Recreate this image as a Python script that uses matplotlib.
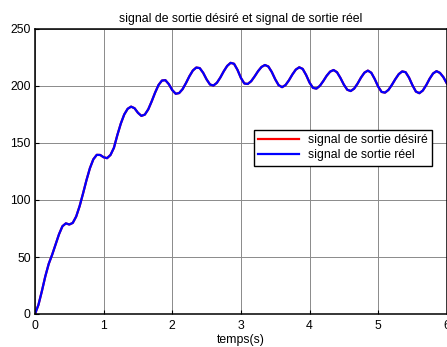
import numpy as np
import matplotlib
matplotlib.use("Agg")
import matplotlib.pyplot as plt

plt.rcParams['font.family'] = ['Liberation Sans', 'DejaVu Sans']

# temps d'échantillonnage (s)
temps = np.round(np.arange(121) * 0.05, 2)

# signal de sortie désiré
sortie_desiree = [
    0.0, 8.0, 20.0, 33.0, 44.0, 52.0, 61.0, 70.0, 77.0, 79.5,
    78.5, 79.9, 85.5, 94.6, 105.7, 117.4, 127.9, 135.7, 139.6, 139.5,
    137.5, 136.7, 139.5, 145.8, 157.0, 167.0, 175.0, 180.0, 181.9, 180.5,
    176.5, 173.8, 174.9, 179.5, 186.5, 194.2, 200.9, 204.8, 205.1, 201.6,
    196.4, 193.2, 193.8, 197.2, 202.6, 208.6, 213.6, 216.2, 215.7, 211.6,
    205.8, 201.3, 200.4, 202.8, 207.4, 212.9, 217.6, 220.3, 219.5, 214.2,
    207.1, 202.2, 201.8, 204.2, 208.4, 213.0, 216.7, 218.4, 217.1, 212.3,
    205.9, 200.7, 199.0, 200.8, 205.0, 210.1, 214.4, 216.4, 215.0, 209.7,
    203.0, 198.4, 197.7, 200.1, 204.3, 209.0, 212.6, 214.0, 212.1, 207.1,
    201.2, 196.7, 195.6, 197.7, 202.1, 207.4, 211.7, 213.5, 211.6, 206.1,
    199.5, 194.8, 194.2, 196.6, 201.0, 206.0, 210.4, 212.8, 212.1, 207.3,
    200.6, 195.1, 193.7, 196.0, 200.7, 206.4, 211.0, 213.0, 211.5, 207.8,
    202.3,
]

# signal de sortie réel (suit la consigne)
sortie_reelle = list(sortie_desiree)

x_ticks = [0, 1, 2, 3, 4, 5, 6]
y_ticks = [0, 50, 100, 150, 200, 250]

W, H = 447, 347
fig = plt.figure(figsize=(W / 100, H / 100), dpi=100)
left, right, top, bottom = 35, 446.8, 29, 314
ax = fig.add_axes([left / W, 1 - bottom / H, (right - left) / W, (bottom - top) / H])

ax.plot(temps, sortie_desiree, color='#ff0000', lw=1.6, label='signal de sortie désiré')
ax.plot(temps, sortie_reelle, color='#0000ff', lw=1.6, label='signal de sortie réel')

ax.set_xlim(0, 6)
ax.set_ylim(0, 250)
ax.set_xticks(x_ticks)
ax.set_yticks(y_ticks)
ax.grid(True, color='#8a8a8a', lw=0.7, ls='-')
ax.tick_params(direction='in', length=3, width=0.8, labelsize=8.8, colors='black')
ax.tick_params(axis='x', pad=4)
ax.tick_params(axis='y', pad=3)
for s in ax.spines.values():
    s.set_linewidth(1.1)
    s.set_color('black')

ax.set_title('signal de sortie désiré et signal de sortie réel', fontsize=8.8, pad=5)
ax.set_xlabel('temps(s)', fontsize=8.8, labelpad=2)

leg = ax.legend(loc='upper left', bbox_to_anchor=(254 / W, 1 - 130 / H),
                bbox_transform=fig.transFigure, fontsize=8.8, frameon=True,
                fancybox=False, framealpha=1, edgecolor='black',
                handlelength=3.3, handletextpad=0.8, borderpad=0.35,
                labelspacing=0.25, borderaxespad=0)
leg.get_frame().set_linewidth(1.0)

fig.savefig('out.png', dpi=100)
